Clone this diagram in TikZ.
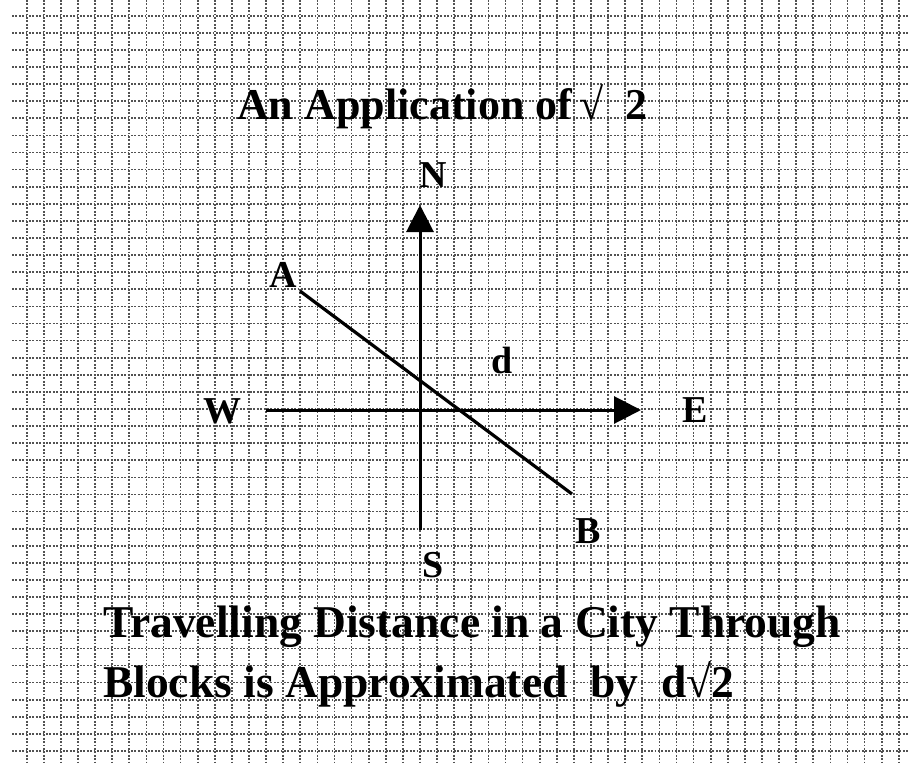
\documentclass[tikz,border=0pt]{standalone}
\usepackage{fontspec}
\setmainfont{Liberation Serif}
\usetikzlibrary{arrows.meta}

\begin{document}
\begin{tikzpicture}[x=1pt,y=-1pt,gridline/.style={draw=black!68, line width=1.7pt, dash pattern=on 1.7pt off 1.7pt},axis/.style={-{Triangle[length=27pt, width=27pt]}, line width=3pt},label/.style={font=\fontsize{38}{40}\selectfont\bfseries, inner sep=0pt},heading/.style={font=\fontsize{45.5}{50}\selectfont\bfseries, inner sep=0pt, anchor=base west}]
\useasboundingbox[fill=white] (0,0) rectangle (908,763);
% graph paper
\foreach \k in {0,...,43} {\draw[gridline] (12,15.7+17.1*\k) -- (908,15.7+17.1*\k);}
\foreach \k in {0,...,51} {\draw[gridline] (26.7+17.1*\k,0) -- (26.7+17.1*\k,763);}
\node[heading, font=\fontsize{44}{48}\selectfont\bfseries] (title) at (237,119) {An Application of\,√\ \ 2};
\coordinate (south) at (420,530);\coordinate (north) at (420,205);
\coordinate (west) at (266,410);\coordinate (east) at (641,410);
\coordinate (pa) at (300,291);\coordinate (pb) at (572,494);
\draw[axis] (south) -- (north);\draw[axis] (west) -- (east);
\draw[line width=3.2pt] (pa) -- (pb);
\node[label] (N) at (433,175) {N};
\node[label] (S) at (433,565) {S};
\node[label] (W) at (222,411) {W};
\node[label] (E) at (695,410) {E};
\node[label] (A) at (283,275) {A};
\node[label] (B) at (588,531) {B};
\node[label] (d) at (502,360) {d};
\node[heading] (line1) at (103,637) {Travelling Distance in a City Through};
\node[heading] (line2) at (103,697) {Blocks is Approximated\ \ by\ \ d√2};
\end{tikzpicture}
\end{document}
